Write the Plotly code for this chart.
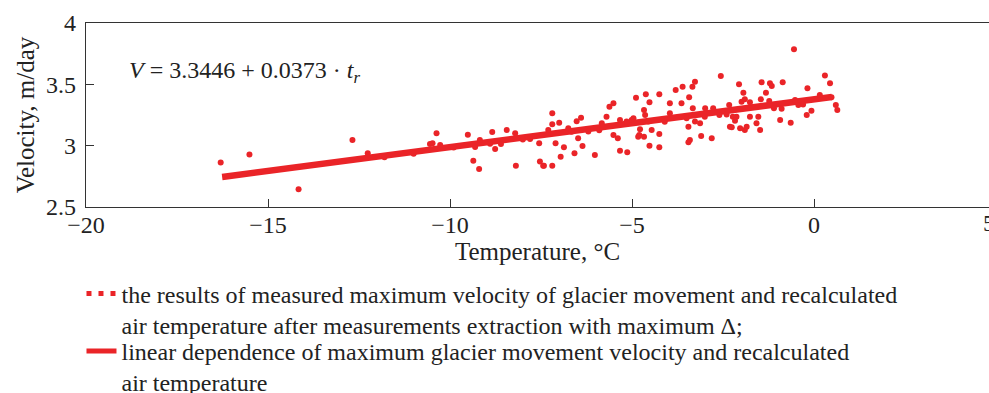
import plotly.graph_objects as go

# ---- data ----
temp = [
    -16.30, -15.51, -14.16, -12.68, -12.26, -10.55,
    -10.37, -10.48, -10.27, -9.51, -9.36, -9.20, -9.31, -9.18, -8.84, -8.76, -8.60,
    -8.44, -8.21, -8.19, -7.55, -7.53, -7.44,
    -7.19, -7.19, -7.30, -7.00, -7.42, -7.19, -7.10, -6.87, -6.96, -6.58, -6.48,
    -6.36, -6.52, -6.40, -6.75, -6.66, -6.02, -5.70, -5.83, -5.62, -5.51, -5.51,
    -5.39, -5.33, -5.33, -5.13, -5.15, -5.01, -4.89, -4.83,
    -4.62, -4.52, -4.25, -4.96, -4.67, -4.64, -4.55, -4.46, -4.80, -4.67, -4.25,
    -4.52, -4.25, -3.96, -3.96, -3.80, -3.61, -3.64, -3.43, -3.34, -3.27, -3.33,
    -3.50, -3.45, -3.27, -3.13, -3.41, -3.45, -3.10, -2.81, -2.99, -2.77, -2.60,
    -2.56, -2.31, -4.78,
    -2.06, -1.94, -2.33, -1.99, -1.90, -1.76, -2.23, -2.13, -2.17, -2.26, -2.03,
    -1.90, -1.85, -1.76, -1.53, -1.58, -1.48, -1.44, -1.21, -1.16, -1.32, -1.46,
    -1.23, -0.89, -0.93, -0.64, -0.86, -0.55, -0.18, -0.20, -0.07, -0.43, 0.16,
    0.30, 0.44, 0.48, 0.60, 0.64, -0.52,
    -11.8, -11.0, -9.9, -8.9, -8.0, -7.8, -6.2, -5.9, -4.1, -3.0, -2.4, -1.1, -0.3,
]
velocity = [
    2.862, 2.927, 2.645, 3.046, 2.938, 3.014,
    3.101, 3.020, 3.006, 3.090, 2.878, 2.810, 2.990, 3.046, 3.112, 2.973, 3.014,
    3.128, 3.101, 2.837, 3.020, 2.870, 2.837,
    3.264, 3.174, 3.128, 3.187, 2.837, 2.837, 3.020, 2.987, 2.910, 2.938, 3.060,
    2.998, 3.200, 3.228, 3.142, 3.114, 2.924, 3.236, 3.183, 3.318, 3.346, 3.087,
    3.060, 3.209, 2.959, 2.946, 3.196, 3.209, 3.391, 3.073,
    3.419, 3.354, 3.419, 3.223, 3.291, 3.250, 3.196, 3.128, 3.087, 3.073, 3.095,
    3.000, 2.987, 3.346, 3.264, 3.454, 3.481, 3.346, 3.394, 3.481, 3.522, 3.305,
    3.223, 3.155, 3.196, 3.183, 3.046, 3.028, 3.079, 3.060, 3.305, 3.305, 3.250,
    3.568, 3.155, 3.134,
    3.500, 3.432, 3.332, 3.359, 3.378, 3.354, 3.236, 3.236, 3.204, 3.150, 3.142,
    3.128, 3.155, 3.236, 3.236, 3.183, 3.128, 3.517, 3.509, 3.487, 3.432, 3.378,
    3.364, 3.300, 3.209, 3.187, 3.517, 3.786, 3.468, 3.250, 3.285, 3.332, 3.413,
    3.571, 3.509, 3.394, 3.332, 3.291, 3.372,
    2.905, 2.935, 2.985, 3.015, 3.050, 3.055, 3.115, 3.125, 3.195, 3.235, 3.255,
    3.305, 3.335,
]

fit_temp = [-16.26, 0.49]
fit_velocity = [2.745, 3.397]

x_ticks = [-20, -15, -10, -5, 0, 5]
x_tick_text = ["\u221220", "\u221215", "\u221210", "\u22125", "0", "5"]
y_ticks = [2.5, 3, 3.5, 4]
y_tick_text = ["2.5", "3", "3.5", "4"]

equation = "<i>V</i> = 3.3446 + 0.0373 · <i>t<sub>r</sub></i>"
legend_points = ("the results of measured maximum velocity of glacier movement and recalculated"
                 "<br>air temperature after measurements extraction with maximum Δ;")
legend_line = ("linear dependence of maximum glacier movement velocity and recalculated"
               "<br>air temperature")

RED = "rgb(234,36,40)"
FONT = "Liberation Serif, Times New Roman, Times, serif"
TXT = "#222"

X_MIN = -20
X_MAX = -20 + 903 / 36.4   # right part of the original axis is cut off by the frame

fig = go.Figure()

fig.add_trace(go.Scatter(
    x=fit_temp, y=fit_velocity, mode="lines",
    line=dict(color=RED, width=6.5), showlegend=False, hoverinfo="skip",
))
fig.add_trace(go.Scatter(
    x=temp, y=velocity, mode="markers",
    marker=dict(color=RED, size=6, line=dict(width=0)), showlegend=False,
))
# legend entries (one legend box each, so their rows can be placed like the original)
fig.add_trace(go.Scatter(
    x=[None], y=[None], mode="lines", name=legend_points, legend="legend",
    line=dict(color=RED, width=5, dash="5px,7px"),
))
fig.add_trace(go.Scatter(
    x=[None], y=[None], mode="lines", name=legend_line, legend="legend2",
    line=dict(color=RED, width=5),
))

fig.add_annotation(
    x=-18.87, y=3.60, xref="x", yref="y", text=equation, showarrow=False,
    xanchor="left", yanchor="middle", font=dict(family=FONT, size=24, color=TXT),
)
# the last tick label ("5") sits right at the cut edge of the frame
fig.add_annotation(
    x=(x_ticks[-1] - X_MIN) / (X_MAX - X_MIN), y=0, xref="paper", yref="paper",
    text=x_tick_text[-1], showarrow=False, xanchor="center", yanchor="top",
    yshift=-1, xshift=-7,
    font=dict(family=FONT, size=24, color=TXT),
)

leg_common = dict(
    xanchor="left", yanchor="top", valign="top", bgcolor="rgba(0,0,0,0)",
    font=dict(family=FONT, size=24, color=TXT), itemwidth=30,
)
fig.update_layout(
    width=989, height=393,
    margin=dict(l=86, r=0, t=23, b=186, autoexpand=False),
    paper_bgcolor="white", plot_bgcolor="white",
    font=dict(family=FONT, size=24, color=TXT),
    showlegend=True,
    legend=dict(x=-0.005, y=-0.3505, **leg_common),
    legend2=dict(x=-0.005, y=-0.662, **leg_common),
)
fig.update_xaxes(
    range=[X_MIN, X_MAX], tickvals=x_ticks[:-1], ticktext=x_tick_text[:-1],
    ticks="inside", ticklen=8, tickcolor="#333", tickwidth=1,
    showline=True, linecolor="#333", linewidth=1.2, mirror=True,
    showgrid=False, zeroline=False, ticklabelstandoff=-4,
    title=dict(text="Temperature, °C", font=dict(family=FONT, size=25), standoff=2),
    tickfont=dict(family=FONT, size=24),
)
fig.update_yaxes(
    range=[2.5, 4], tickvals=y_ticks, ticktext=y_tick_text,
    ticks="inside", ticklen=8, tickcolor="#333", tickwidth=1,
    showline=True, linecolor="#333", linewidth=1.2, mirror=False,
    showgrid=False, zeroline=False, ticklabelstandoff=4,
    title=dict(text="Velocity, m/day", font=dict(family=FONT, size=25), standoff=4),
    tickfont=dict(family=FONT, size=24),
)

fig.write_html("out.html")
